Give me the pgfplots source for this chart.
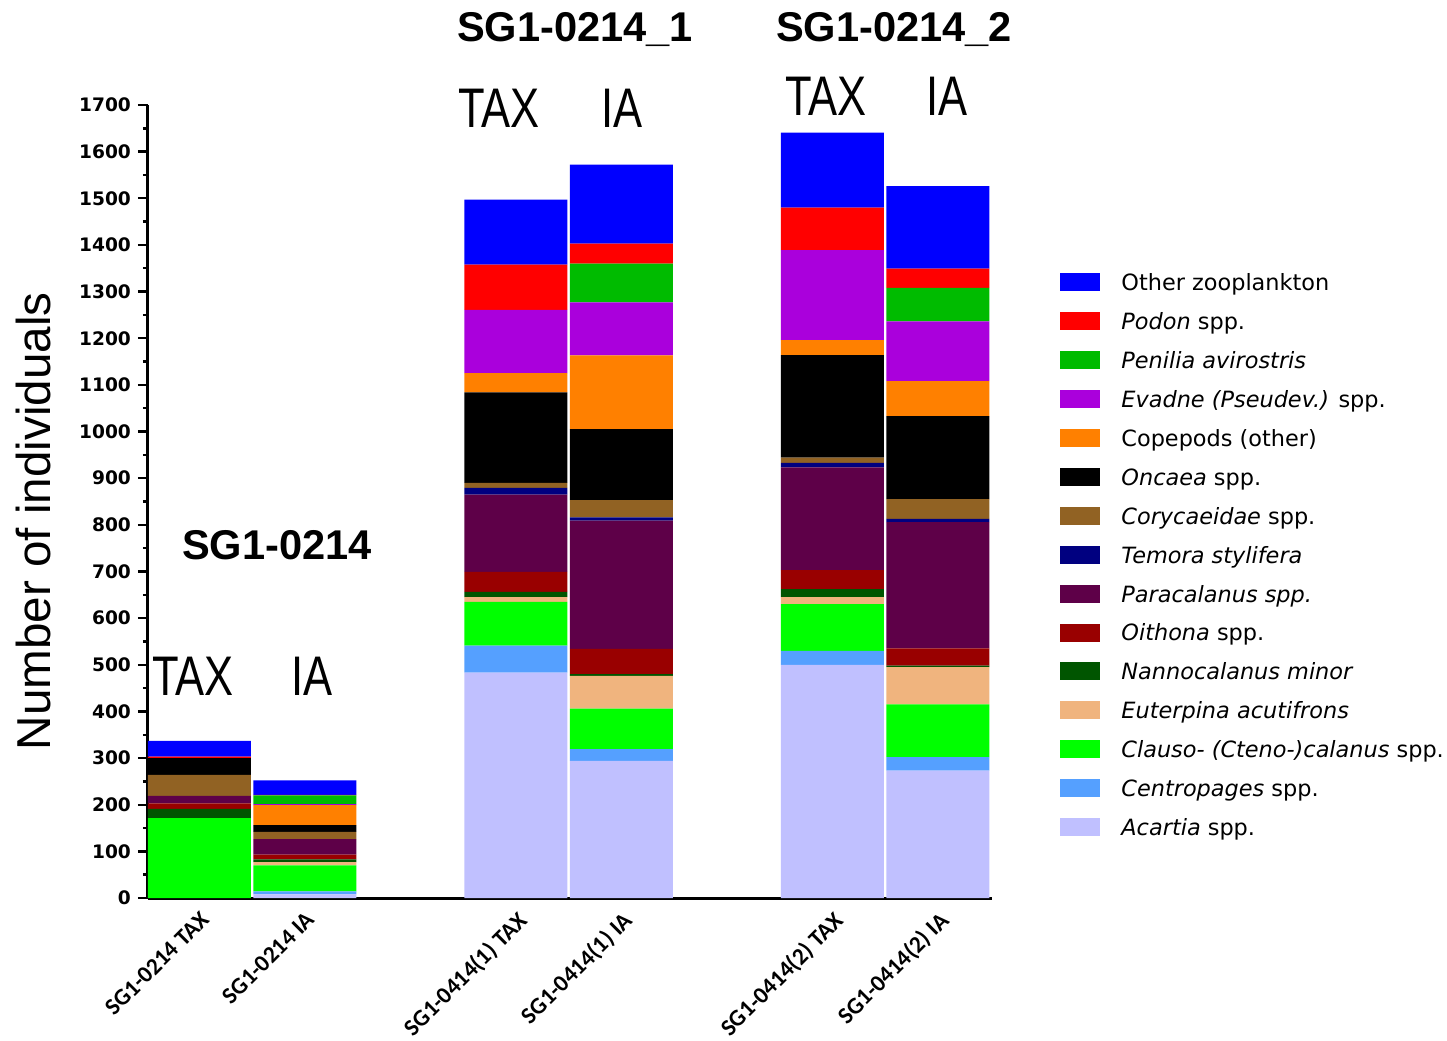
\documentclass[border=0pt]{standalone}
\usepackage{fontspec}
\setmainfont{DejaVu Sans}
\newfontfamily\arialfont{Liberation Sans}
\newfontfamily\calfont{Carlito}
\usepackage{pgfplots}
\usepackage{pgfplotstable}
\pgfplotsset{compat=1.18}

\definecolor{cOther}{RGB}{0,0,255}
\definecolor{cPodon}{RGB}{255,0,0}
\definecolor{cPenilia}{RGB}{0,187,0}
\definecolor{cEvadne}{RGB}{170,0,220}
\definecolor{cCopepods}{RGB}{255,128,0}
\definecolor{cOncaea}{RGB}{0,0,0}
\definecolor{cCory}{RGB}{145,98,35}
\definecolor{cTemora}{RGB}{0,0,128}
\definecolor{cPara}{RGB}{94,0,72}
\definecolor{cOithona}{RGB}{153,0,0}
\definecolor{cNanno}{RGB}{0,85,0}
\definecolor{cEuter}{RGB}{240,180,126}
\definecolor{cClauso}{RGB}{0,255,0}
\definecolor{cCentro}{RGB}{85,160,255}
\definecolor{cAcartia}{RGB}{192,192,255}

\pgfplotstableread{
x Acartia Centropages Clauso Euterpina Nannocalanus Oithona Paracalanus Temora Corycaeidae Oncaea Copepods Evadne Penilia Podon Other
0 0   0  171 0  20 12 16  0  45 36  0   0   0  3  34
1 8   6  56  7  6  10 33  0  16 14  43  2   19 1  31
3 483 58 94  10 11 43 166 14 11 194 41  136 0  97 139
4 294 25 87  70 4  54 275 7  37 152 158 114 83 43 169
6 500 30 100 15 17 41 220 10 11 220 32  193 0  91 161
7 273 29 113 80 3  37 271 7  42 178 75  128 72 41 177
}\datatable

\begin{document}
\begin{tikzpicture}
\useasboundingbox (-74pt,-71pt) rectangle (649.5pt,449pt);
\begin{axis}[
  at={(0pt,0pt)}, anchor=south west,
  scale only axis, width=422pt, height=396.5pt,
  ybar stacked, bar width=0.976,
  xmin=-0.488, xmax=7.512, ymin=0, ymax=1700,
  axis x line*=bottom, axis y line*=left,
  axis line style={line width=1.5pt},
  ytick={0,100,...,1700}, minor y tick num=1,
  tick align=outside,
  major tick length=5pt, minor tick length=2.5pt,
  every tick/.style={black, line width=1.2pt},
  xtick={0,1,3,4,6,7},
  xticklabels={SG1-0214 TAX, SG1-0214 IA, SG1-0414(1) TAX, SG1-0414(1) IA, SG1-0414(2) TAX, SG1-0414(2) IA},
  xtick style={draw=none},
  /pgf/number format/assume math mode=true,
  /pgf/number format/1000 sep={},
  yticklabel style={font=\fontsize{9.3}{11}\bfseries\selectfont},
  xticklabel style={font=\calfont\fontsize{11.8}{13}\bfseries\selectfont, rotate=45, anchor=north east, inner sep=0.5pt},
  ylabel={Number of individuals},
  ylabel style={font=\arialfont\fontsize{23.8}{26}\selectfont, at={(axis description cs:-0.136,0.475)}, anchor=center},
  legend style={at={(axis description cs:1.0806,0.7881)}, anchor=north west, draw=none, fill=none, inner sep=0pt,
    font=\fontsize{11.2}{13}\selectfont, row sep=8.25pt, column sep=10.5pt,
    nodes={inner sep=0pt, text height=8.5pt, text depth=2.5pt}},
  legend cell align=left, reverse legend,
  legend image code/.code={\fill[#1] (0pt,-3.3pt) rectangle (20pt,5.7pt);},
]
\addplot[fill=cAcartia, draw=none] table[x=x, y=Acartia] {\datatable};
\addlegendentry{\textit{Acartia} spp.}
\addplot[fill=cCentro, draw=none] table[x=x, y=Centropages] {\datatable};
\addlegendentry{\textit{Centropages} spp.}
\addplot[fill=cClauso, draw=none] table[x=x, y=Clauso] {\datatable};
\addlegendentry{\textit{Clauso- (Cteno-)calanus} spp.}
\addplot[fill=cEuter, draw=none] table[x=x, y=Euterpina] {\datatable};
\addlegendentry{\textit{Euterpina acutifrons}}
\addplot[fill=cNanno, draw=none] table[x=x, y=Nannocalanus] {\datatable};
\addlegendentry{\textit{Nannocalanus minor}}
\addplot[fill=cOithona, draw=none] table[x=x, y=Oithona] {\datatable};
\addlegendentry{\textit{Oithona} spp.}
\addplot[fill=cPara, draw=none] table[x=x, y=Paracalanus] {\datatable};
\addlegendentry{\textit{Paracalanus spp.}}
\addplot[fill=cTemora, draw=none] table[x=x, y=Temora] {\datatable};
\addlegendentry{\textit{Temora stylifera}}
\addplot[fill=cCory, draw=none] table[x=x, y=Corycaeidae] {\datatable};
\addlegendentry{\textit{Corycaeidae} spp.}
\addplot[fill=cOncaea, draw=none] table[x=x, y=Oncaea] {\datatable};
\addlegendentry{\textit{Oncaea} spp.}
\addplot[fill=cCopepods, draw=none] table[x=x, y=Copepods] {\datatable};
\addlegendentry{Copepods (other)}
\addplot[fill=cEvadne, draw=none] table[x=x, y=Evadne] {\datatable};
\addlegendentry{\textit{Evadne (Pseudev.)} spp.}
\addplot[fill=cPenilia, draw=none] table[x=x, y=Penilia] {\datatable};
\addlegendentry{\textit{Penilia avirostris}}
\addplot[fill=cPodon, draw=none] table[x=x, y=Podon] {\datatable};
\addlegendentry{\textit{Podon} spp.}
\addplot[fill=cOther, draw=none] table[x=x, y=Other] {\datatable};
\addlegendentry{Other zooplankton}
\end{axis}
\begin{scope}[every node/.style={anchor=base, inner sep=0pt}]
\node[font=\arialfont\bfseries\fontsize{20.8}{24}\selectfont] at (213.5pt,428pt) {SG1-0214\_1};
\node[font=\arialfont\bfseries\fontsize{20.8}{24}\selectfont] at (373pt,428pt) {SG1-0214\_2};
\node[font=\arialfont\bfseries\fontsize{20.8}{24}\selectfont] at (64.5pt,169.5pt) {SG1-0214};
\node[font=\arialfont\fontsize{27.9}{30}\selectfont, xscale=0.78] at (175.5pt,385pt) {TAX};
\node[font=\arialfont\fontsize{27.9}{30}\selectfont, xscale=0.78] at (237pt,385pt) {IA};
\node[font=\arialfont\fontsize{27.9}{30}\selectfont, xscale=0.78] at (339pt,391pt) {TAX};
\node[font=\arialfont\fontsize{27.9}{30}\selectfont, xscale=0.78] at (399.5pt,391pt) {IA};
\node[font=\arialfont\fontsize{27.9}{30}\selectfont, xscale=0.78] at (22.5pt,101.5pt) {TAX};
\node[font=\arialfont\fontsize{27.9}{30}\selectfont, xscale=0.78] at (82pt,101.5pt) {IA};
\end{scope}
\end{tikzpicture}
\end{document}
